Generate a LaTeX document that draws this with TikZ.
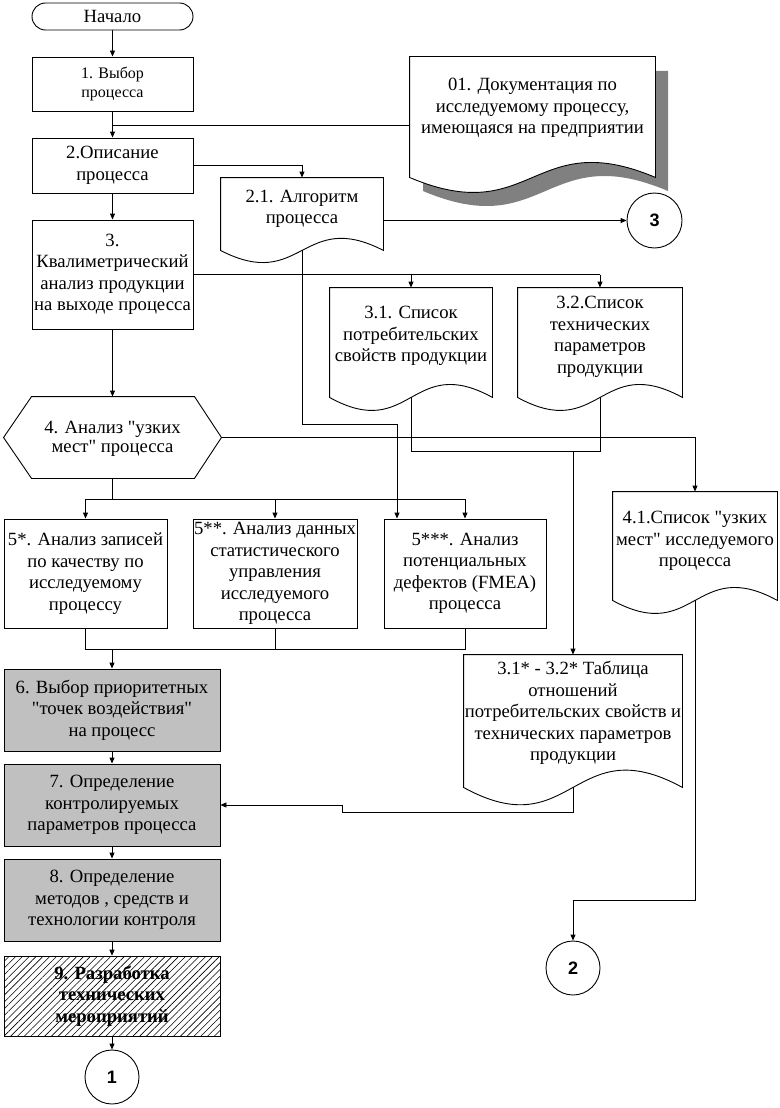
\documentclass[tikz,border=0pt]{standalone}
\usepackage{fontspec}
\setmainfont{Liberation Serif}
\newfontfamily\arialf{Liberation Sans}
\usetikzlibrary{arrows.meta,calc,patterns.meta}
\newcommand{\fzMain}{\fontsize{18.67}{21.5}\selectfont}
\newcommand{\fzSmall}{\fontsize{16}{19}\selectfont}
\newcommand{\fzHex}{\fontsize{18.67}{19}\selectfont}
\newcommand{\sq}{\XeTeXglyph\XeTeXcharglyph"22\relax}
% document outline: node name, wave control offset
\newcommand{\drawdoc}[3][]{\draw[#1] (#2.north west) -- (#2.north east) -- (#2.south east)
  .. controls ($(#2.south)+(0,-#3)$) and ($(#2.south)+(0,#3)$) .. (#2.south west) -- cycle;}
\begin{document}
\begin{tikzpicture}[x=1pt,y=-1pt,line width=0.9pt,
  >={Triangle[length=6pt,width=5pt]},
  box/.style={draw,rectangle,inner sep=0pt,align=center,font=\fzMain},
  shade/.style={box,fill={rgb,255:red,192;green,192;blue,192}},
  ghost/.style={rectangle,inner sep=0pt},
  txt/.style={inner sep=0pt,align=center,font=\fzMain},
  conn/.style={draw,circle,inner sep=0pt,minimum size=54pt,font=\arialf\bfseries\fontsize{18}{20}\selectfont}
]
\useasboundingbox (0,0) rectangle (779,1108);
\fill[white] (0,0) rectangle (779,1108);

% ---------- left column ----------
\node[box,rounded corners=13.5pt,minimum width=161,minimum height=27] (start) at (112.5,16.5) {Начало};
\node[box,minimum width=161,minimum height=54,font=\fzSmall] (b1) at (112.5,84) {1. Выбор\\процесса};
\node[box,minimum width=161,minimum height=55] (b2) at (112.5,165.5) {2.Описание\\процесса};
\node[box,minimum width=161,minimum height=109] (b3) at (112.5,274.5) {3.\\Квалиметрический\\анализ продукции\\на выходе процесса};

% hexagon
\node[ghost,minimum width=217,minimum height=81] (hex) at (112.5,437.5) {};
\draw (hex.west) -- ($(hex.north west)+(28,0)$) -- ($(hex.north east)+(-27,0)$) -- (hex.east)
  -- ($(hex.south east)+(-27,0)$) -- ($(hex.south west)+(28,0)$) -- cycle;
\node[txt,font=\fzHex] (hext) at (112.5,439) {4. Анализ \sq узких\\мест\sq\ процесса};

% boxes 5
\node[box,minimum width=163,minimum height=109] (c5a) at (85.5,573.5) {5*. Анализ записей\\по качеству по\\исследуемому\\процессу};
\node[box,minimum width=164,minimum height=109] (c5b) at (275,573.5) {5**. Анализ данных\\статистического\\управления\\исследуемого\\процесса};
\node[box,minimum width=162,minimum height=109] (c5c) at (465,573.5) {5***. Анализ\\потенциальных\\дефектов (FMEA)\\процесса};

% shaded boxes
\node[shade,minimum width=216,minimum height=82] (b6) at (112,710) {6. Выбор приоритетных\\\sq точек воздействия\sq\\на процесс};
\node[shade,minimum width=216,minimum height=82] (b7) at (112,805) {7. Определение\\контролируемых\\параметров процесса};
\node[shade,minimum width=216,minimum height=82] (b8) at (112,900) {8. Определение\\методов , средств и\\технологии контроля};
\node[box,minimum width=216,minimum height=80,font=\fzMain\bfseries,
  pattern={Lines[angle=45,distance=4.8pt,line width=0.6pt]}] (b9) at (112,996) {9. Разработка\\технических\\мероприятий};

\node[conn] (k1) at (112,1077) {1};
\node[conn] (k2) at (573,968) {2};
\node[conn,minimum size=55pt] (k3) at (654.5,220.5) {3};

% ---------- documents ----------
\node[ghost,minimum width=245,minimum height=120] (d01) at (532.5,117) {};
\fill[gray] (423,71) -- (668,71) -- (668,191) .. controls (545.5,139) and (545.5,243) .. (423,191) -- cycle;
\drawdoc[fill=white]{d01}{52}
\node[txt] (d01t) at (532.5,108) {01. Документация по\\исследуемому процессу,\\имеющаяся на предприятии};

\node[ghost,minimum width=162,minimum height=72] (d21) at (302,214) {};
\drawdoc{d21}{42}
\node[txt] (d21t) at (302,209) {2.1. Алгоритм\\процесса};

\node[ghost,minimum width=162,minimum height=109] (d31) at (411,342.5) {};
\drawdoc{d31}{45}
\node[txt] (d31t) at (411,336) {3.1. Список\\потребительских\\свойств продукции};

\node[ghost,minimum width=164,minimum height=109] (d32) at (600,342.5) {};
\drawdoc{d32}{45}
\node[txt] (d32t) at (600,337) {3.2.Список\\технических\\параметров\\продукции};

\node[ghost,minimum width=164,minimum height=108] (d41) at (695,546) {};
\drawdoc{d41}{45}
\node[txt] (d41t) at (695,541) {4.1.Список \sq узких\\мест\sq\ исследуемого\\процесса};

\node[ghost,minimum width=218,minimum height=132] (tbl) at (573,721) {};
\drawdoc{tbl}{60}
\node[txt] (tblt) at (573,713) {3.1* - 3.2* Таблица\\отношений\\потребительских свойств и\\технических параметров\\продукции};

% ---------- connectors ----------
\draw[->] (start) -- (b1);
\draw[->] (b1) -- (b2);
\coordinate (j01) at (112.5,125);
\draw (j01) -- (j01 -| d01.west);
\draw[->] (b2.east) -| (d21.north);
\draw[->] (b2) -- (b3);
\draw[->] (d21.east |- k3) -- (k3);
\coordinate (j3) at (b3.east);
\draw (j3) -- (j3 -| d32.north);
\draw[->] (j3 -| d32.north) -- (d32.north);
\draw[->] (j3 -| d31.north) -- (d31.north);
\coordinate (j21) at (397,424);
\draw (d21.south) |- (j21);
\draw[->] (j21) -- (j21 |- c5c.north);
\draw[->] (b3) -- (hex);
\coordinate (j31) at (411,451);
\draw (d31.south) -- (j31) -| (d32.south);
\draw[->] (j31 -| tbl.north) -- (tbl.north);
\draw[->] (hex.east) -| (d41.north);
\coordinate (j4) at (112.5,499);
\draw (hex.south) -- (j4);
\draw (j4 -| c5a.north) -- (j4 -| c5c.north);
\draw[->] (j4 -| c5a.north) -- (c5a.north);
\draw[->] (j4 -| c5b.north) -- (c5b.north);
\draw[->] (j4 -| c5c.north) -- (c5c.north);
\coordinate (j5) at (112,649);
\draw (c5a.south) |- (j5 -| c5c.south) -- (c5c.south);
\draw (c5b.south) -- (j5 -| c5b.south);
\draw[->] (j5) -- (b6.north);
\draw[->] (b6) -- (b7);
\draw[->] (b7) -- (b8);
\draw[->] (b8) -- (b9);
\draw[->] (b9) -- (k1);
\coordinate (jt1) at (573,812);
\coordinate (jt2) at (342,812);
\draw[->] (tbl.south) -- (jt1) -- (jt2) -- (jt2 |- b7.east) -- (b7.east);
\coordinate (j41) at (695,900);
\draw[->] (d41.south) -- (j41) -| (k2.north);
\end{tikzpicture}
\end{document}
